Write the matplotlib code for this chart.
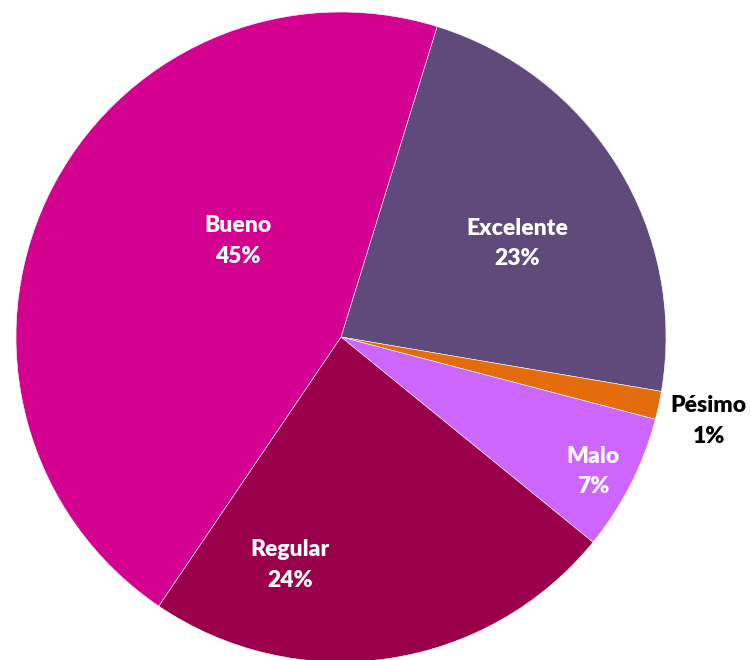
import matplotlib
matplotlib.use("Agg")
import matplotlib.pyplot as plt

# data (clockwise from Excelente)
categories = ["Excelente", "Pésimo", "Malo", "Regular", "Bueno"]
values = [22.9, 1.4, 6.8, 23.6, 45.3]
colors = ["#604A7B", "#E46C0A", "#CC66FF", "#990049", "#D4008F"]

# label placement (data units, pie radius = 1)
label_pos = [(0.542, 0.288), (1.132, -0.259), (0.775, -0.413),
             (-0.157, -0.702), (-0.317, 0.295)]
label_col = ["white", "black", "white", "white", "white"]

fig = plt.figure(figsize=(7.51, 6.60), dpi=100)
ax = fig.add_axes([16 / 751, -2 / 660, 650 / 751, 650 / 660])

ax.pie(values, colors=colors, startangle=72.8, counterclock=False,
       radius=1, wedgeprops=dict(edgecolor="white", linewidth=0.4))

for name, v, (x, y), c in zip(categories, values, label_pos, label_col):
    ax.text(x, y, f"{name}\n{round(v):.0f}%", ha="center", va="center",
            color=c, fontsize=16.5, fontweight="heavy", family="Lato",
            linespacing=1.55)

ax.set_xlim(-1, 1)
ax.set_ylim(-1, 1)
ax.set_aspect("equal")
ax.axis("off")

fig.savefig("out.png", dpi=100)
